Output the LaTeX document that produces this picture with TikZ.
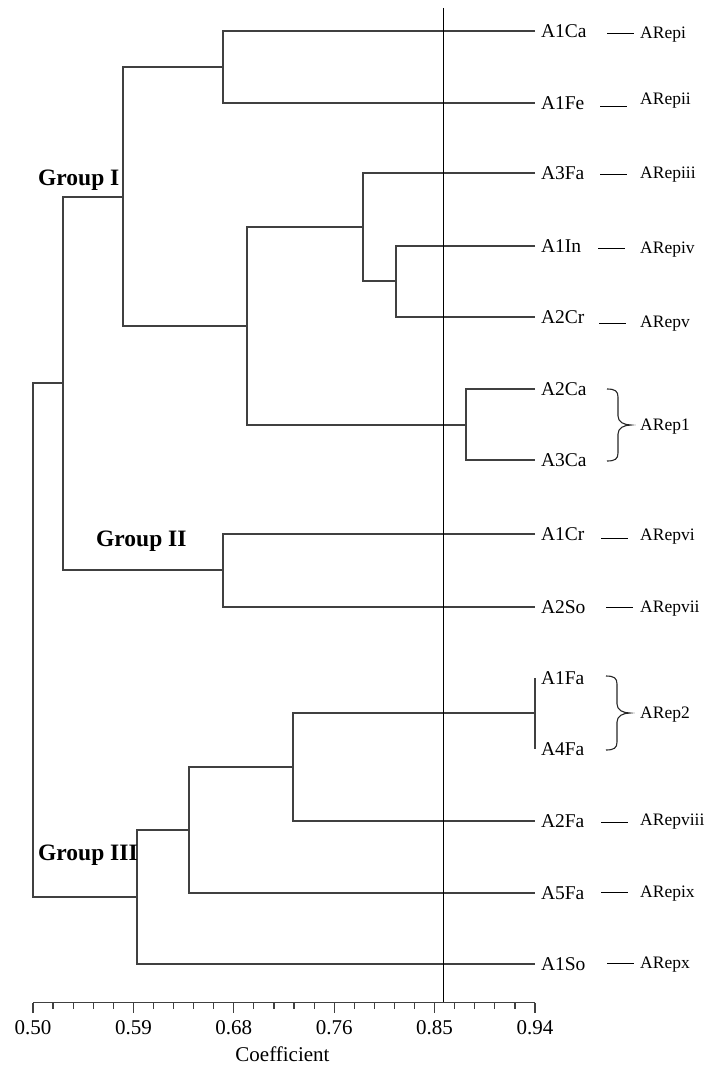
\documentclass[tikz,border=0pt]{standalone}
\usepackage{fontspec}
\setmainfont{Liberation Serif}
\usetikzlibrary{calc}
\begin{document}
\begin{tikzpicture}[x=1pt,y=-1pt,
  tree/.style={draw=black!75, line width=1.4pt, line join=miter},
  cutline/.style={draw=black, line width=0.9pt},
  dashline/.style={draw=black, line width=0.9pt},
  bracestyle/.style={draw=black!85, line width=1.1pt},
  leaf/.style={anchor=west, inner sep=0pt, outer xsep=6pt, text height=13pt, text depth=0pt,
    font=\fontsize{19.5}{20}\selectfont},
  replabel/.style={anchor=west, inner sep=0pt, text height=11.5pt, text depth=0pt,
    font=\fontsize{17.5}{18}\selectfont},
  grouplabel/.style={anchor=west, inner sep=0pt, text height=15.5pt, text depth=0pt,
    font=\fontsize{23.5}{24}\selectfont\bfseries},
  ticklabel/.style={anchor=center, inner sep=0pt, text height=14pt, text depth=0pt,
    font=\fontsize{21}{22}\selectfont},
]
\useasboundingbox (0,0) rectangle (723,1065);

% leaves
\node[leaf] (A1Ca) at (535,31)  {A1Ca};
\node[leaf] (A1Fe) at (535,103) {A1Fe};
\node[leaf] (A3Fa) at (535,173) {A3Fa};
\node[leaf] (A1In) at (535,246) {A1In};
\node[leaf] (A2Cr) at (535,317) {A2Cr};
\node[leaf] (A2Ca) at (535,389) {A2Ca};
\node[leaf] (A3Ca) at (535,460) {A3Ca};
\node[leaf] (A1Cr) at (535,534) {A1Cr};
\node[leaf] (A2So) at (535,607) {A2So};
\node[leaf] (A1Fa) at (535,678) {A1Fa};
\node[leaf] (A4Fa) at (535,749) {A4Fa};
\node[leaf] (A2Fa) at (535,821) {A2Fa};
\node[leaf] (A5Fa) at (535,893) {A5Fa};
\node[leaf] (A1So) at (535,964) {A1So};

% cluster joints
\coordinate (c1) at (223,67);
\coordinate (c2) at (396,281);
\coordinate (c3) at (363,227);
\coordinate (c4) at (466,425);
\coordinate (c5) at (247,326);
\coordinate (c6) at (123,197);
\coordinate (c7) at (223,570);
\coordinate (c8) at (63,383);
\coordinate (c9) at (535,713);
\coordinate (c10) at (293,767);
\coordinate (c11) at (189,830);
\coordinate (c12) at (137,897);
\coordinate (root) at (33,640);

% dendrogram
\draw[tree] (A1Ca.west) -| (c1) |- (A1Fe.west);
\draw[tree] (A1In.west) -| (c2) |- (A2Cr.west);
\draw[tree] (A3Fa.west) -| (c3) |- (c2);
\draw[tree] (A2Ca.west) -| (c4) |- (A3Ca.west);
\draw[tree] (c3) -| (c5) |- (c4);
\draw[tree] (c1) -| (c6) |- (c5);
\draw[tree] (A1Cr.west) -| (c7) |- (A2So.west);
\draw[tree] (c6) -| (c8) |- (c7);
\draw[tree] (A1Fa.west) -- (A4Fa.west);
\draw[tree] (c9) -| (c10) |- (A2Fa.west);
\draw[tree] (c10) -| (c11) |- (A5Fa.west);
\draw[tree] (c11) -| (c12) |- (A1So.west);
\draw[tree] (c8) -| (root) |- (c12);

% cut-off line
\coordinate (cutTop) at (443,8);
\coordinate (cutBot) at (443,1003);
\draw[cutline] (cutTop) -- (cutBot);

% replicate labels
\node[replabel] (R1)  at (640,33)  {ARepi};
\node[replabel] (R2)  at (640,99)  {ARepii};
\node[replabel] (R3)  at (640,173) {ARepiii};
\node[replabel] (R4)  at (640,248) {ARepiv};
\node[replabel] (R5)  at (640,322) {ARepv};
\node[replabel] (R6)  at (640,535) {ARepvi};
\node[replabel] (R7)  at (640,607) {ARepvii};
\node[replabel] (R8)  at (640,820) {ARepviii};
\node[replabel] (R9)  at (640,892) {ARepix};
\node[replabel] (R10) at (640,963) {ARepx};
\node[replabel] (RP1) at (640,425) {ARep1};
\node[replabel] (RP2) at (640,713) {ARep2};

% short dashes before single labels
\coordinate (d1)  at (607,33);
\coordinate (d2)  at (600,106);
\coordinate (d3)  at (600,174);
\coordinate (d4)  at (598,248);
\coordinate (d5)  at (599,323);
\coordinate (d6)  at (601,538);
\coordinate (d7)  at (606,607);
\coordinate (d8)  at (601,822);
\coordinate (d9)  at (601,892);
\coordinate (d10) at (607,963);
\foreach \d in {d1,d2,d3,d4,d5,d6,d7,d8,d9,d10}
  \draw[dashline] (\d) -- ++(27,0);

% curly braces for pooled replicates
\newcommand\repbrace[2]{%
  \draw[bracestyle] (#1) .. controls +(8,0) and +(0,-6) .. ++(11,8)
    -- ++(0,#2) .. controls +(0,6) and +(-7,0) .. ++(13,9)
    .. controls +(-7,0) and +(0,-6) .. ++(-13,9)
    -- ++(0,#2) .. controls +(0,6) and +(8,0) .. ++(-11,8);}
\coordinate (b1) at (607,389);
\coordinate (b2) at (606,676);
\repbrace{b1}{19}
\repbrace{b2}{20}

% group labels
\node[grouplabel] (g1) at (38,177.5) {Group I};
\node[grouplabel] (g2) at (96,539)   {Group II};
\node[grouplabel] (g3) at (38,853)   {Group III};

% coefficient axis
\coordinate (ax0) at (33,1002.5);
\coordinate (ax1) at (535,1002.5);
\draw[tree, line width=1.2pt] (ax0) -- (ax1);
\foreach \i in {0,...,25}{
  \pgfmathsetmacro\tl{mod(\i,5)==0 ? 10.5 : 6}
  \draw[tree, line width=1.2pt] ($(ax0)+(\i*20.08,0)$) -- ++(0,\tl);
}
\foreach \v [count=\k from 0] in {0.50,0.59,0.68,0.76,0.85,0.94}
  \node[ticklabel] (t\k) at (33+\k*100.4,1027) {\v};
\node[ticklabel] (axtitle) at (282.5,1054) {Coefficient};
\end{tikzpicture}
\end{document}
